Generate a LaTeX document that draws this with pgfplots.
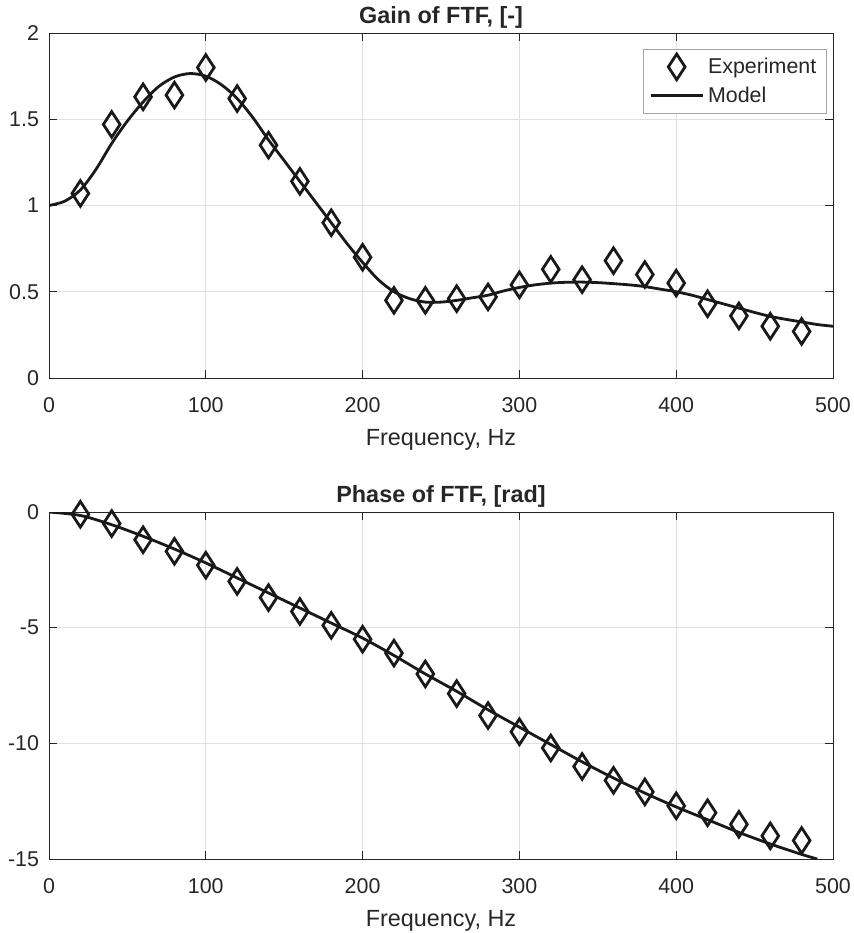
\documentclass[border=0pt]{standalone}
\usepackage{pgfplots}
\pgfplotsset{compat=1.18}
\usepackage{fontspec}
\setmainfont{Liberation Sans}
\definecolor{axgray}{gray}{0.15}
\definecolor{gridgray}{gray}{0.88}
\definecolor{linecol}{gray}{0.1}

\pgfplotsset{
  diamleg/.style={legend image code/.code={\draw[##1] plot coordinates {(13pt,0pt)};}},
  lineleg/.style={legend image code/.code={\draw[##1] (0pt,0pt) -- (26pt,0pt);}},
  mystyle/.style={
  scale only axis, width=392pt,
  xmin=0, xmax=500, xtick={0,100,...,500},
  grid=major, major grid style={gridgray, line width=0.5pt},
  tick align=inside, major tick length=4pt,
  axis line style={axgray, line width=0.5pt}, tick style={axgray, line width=0.5pt},
  ticklabel style={font=\fontsize{10.7}{12}\selectfont, color=axgray},
  xticklabel style={yshift=-6pt},
  yticklabel style={xshift=-1.5pt},
  /pgf/number format/assume math mode=true,
  xlabel={Frequency, Hz},
  xlabel style={font=\fontsize{11.7}{13}\selectfont, color=axgray,
    at={(axis description cs:0.5,0)}, anchor=base, yshift=-33.5pt},
  title style={font=\bfseries\fontsize{11.7}{13}\selectfont, color=axgray,
    at={(axis description cs:0.5,1)}, anchor=base, yshift=-1pt},
  clip=true,
}}

\begin{document}
\begin{tikzpicture}
\path[use as bounding box] (0,0) rectangle (427pt,-466.5pt);

% ---------------- Gain ----------------
\begin{axis}[mystyle,
  at={(24.5pt,-16.5pt)}, anchor=north west, height=172.5pt,
  ymin=0, ymax=2, ytick={0,0.5,1,1.5,2},
  title={Gain of FTF, [-]},
  legend style={at={(0.992,0.953)}, anchor=north east, draw=gray!70, line width=0.4pt,
    font=\fontsize{10.7}{12}\selectfont, text=axgray, inner xsep=3pt, inner ysep=2pt,
    row sep=1.2pt},
  legend cell align=left,
]
\addplot[only marks, mark=diamond, mark size=6.4pt, mark options={line width=1.4pt, draw=linecol, fill=none, xscale=0.87}, diamleg]
coordinates {
(20,1.07) (40,1.47) (60,1.63) (80,1.64) (100,1.80) (120,1.62) (140,1.35) (160,1.14)
(180,0.90) (200,0.70) (220,0.45) (240,0.45) (260,0.46) (280,0.47) (300,0.54) (320,0.63)
(340,0.57) (360,0.68) (380,0.60) (400,0.55) (420,0.43) (440,0.36) (460,0.30) (480,0.27)
};
\addlegendentry{Experiment\hspace{2.5pt}}
\addplot[smooth, line width=1.4pt, color=linecol, no marks, lineleg]
coordinates {
(0,1.00) (10,1.025) (20,1.09) (30,1.21) (40,1.36) (50,1.49) (60,1.60) (70,1.69) (80,1.745)
(90,1.765) (100,1.75) (110,1.70) (120,1.62) (130,1.51) (140,1.38) (150,1.26) (160,1.14)
(170,1.02) (180,0.90) (190,0.78) (200,0.67) (210,0.57) (220,0.50) (230,0.46) (240,0.44)
(250,0.44) (260,0.45) (270,0.465) (280,0.48) (290,0.505) (300,0.525) (310,0.54) (320,0.55)
(330,0.555) (340,0.556) (350,0.553) (360,0.547) (370,0.54) (380,0.53) (390,0.515) (400,0.50)
(410,0.48) (420,0.455) (430,0.43) (440,0.405) (450,0.38) (460,0.357) (470,0.34) (480,0.325)
(490,0.31) (500,0.30)
};
\addlegendentry{Model}
\end{axis}

% ---------------- Phase ----------------
\begin{axis}[mystyle,
  at={(24.5pt,-256pt)}, anchor=north west, height=173.5pt,
  ymin=-15, ymax=0, ytick={-15,-10,-5,0},
  title={Phase of FTF, [rad]},
]
\addplot[only marks, mark=diamond, mark size=6.4pt, mark options={line width=1.4pt, draw=linecol, fill=none, xscale=0.87}]
coordinates {
(20,-0.1) (40,-0.5) (60,-1.2) (80,-1.7) (100,-2.3) (120,-3.0) (140,-3.7) (160,-4.3)
(180,-4.9) (200,-5.5) (220,-6.1) (240,-7.0) (260,-7.85) (280,-8.8) (300,-9.5) (320,-10.2)
(340,-11.0) (360,-11.6) (380,-12.1) (400,-12.7) (420,-13.0) (440,-13.5) (460,-14.0) (480,-14.2)
};
\addplot[smooth, line width=1.4pt, color=linecol, no marks]
coordinates {
(0,0) (20,-0.15) (40,-0.55) (60,-1.05) (80,-1.6) (100,-2.2) (120,-2.85) (140,-3.5)
(160,-4.15) (180,-4.8) (200,-5.45) (220,-6.2) (240,-7.0) (260,-7.75) (280,-8.55)
(300,-9.3) (320,-10.05) (340,-10.8) (360,-11.5) (380,-12.15) (400,-12.75) (420,-13.3)
(440,-13.85) (460,-14.35) (480,-14.8) (490,-15.0)
};
\end{axis}
\end{tikzpicture}
\end{document}
